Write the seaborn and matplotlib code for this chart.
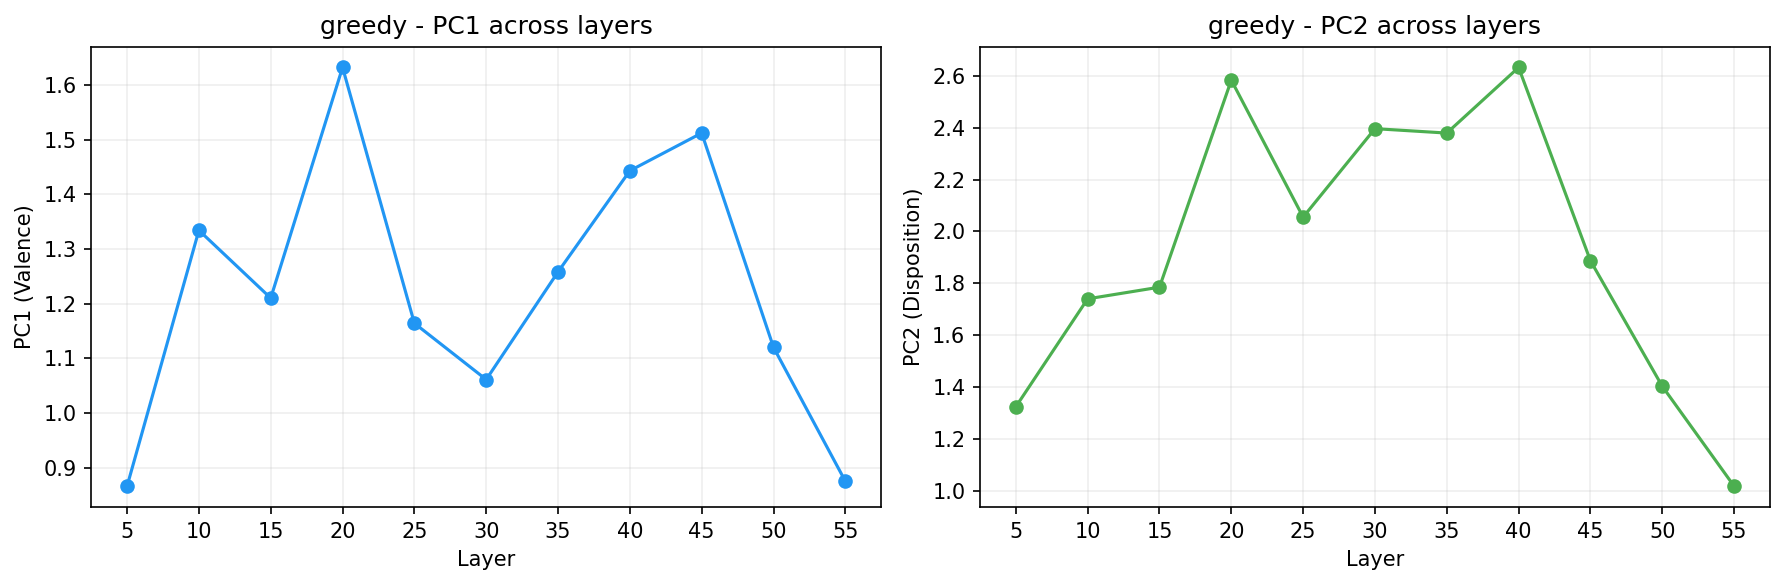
import matplotlib
matplotlib.use("Agg")
import matplotlib.pyplot as plt
import seaborn as sns
import pandas as pd

layers = [5, 10, 15, 20, 25, 30, 35, 40, 45, 50, 55]
pc1_values = [0.866, 1.334, 1.210, 1.632, 1.164, 1.061, 1.258, 1.443, 1.512, 1.120, 0.875]
pc2_values = [1.324, 1.740, 1.785, 2.583, 2.055, 2.396, 2.379, 2.632, 1.887, 1.403, 1.018]

df = pd.DataFrame({"Layer": layers, "PC1": pc1_values, "PC2": pc2_values})

plt.rcParams['font.family'] = ['DejaVu Sans']
fig, axes = plt.subplots(1, 2, figsize=(12, 4), dpi=150)

specs = [
    ("PC1", "#2196F3", "PC1 (Valence)", "greedy - PC1 across layers"),
    ("PC2", "#4CAF50", "PC2 (Disposition)", "greedy - PC2 across layers"),
]
for ax, (col, color, ylabel, title) in zip(axes, specs):
    sns.lineplot(data=df, x="Layer", y=col, ax=ax, color=color, marker="o",
                 markersize=7, markeredgewidth=0, linewidth=1.5)
    ax.set_xticks(layers)
    ax.set_xlabel("Layer")
    ax.set_ylabel(ylabel)
    ax.set_title(title, fontsize=12)
    ax.grid(True, alpha=0.2)

fig.tight_layout()
fig.savefig("out.png", dpi=150, bbox_inches="tight")
